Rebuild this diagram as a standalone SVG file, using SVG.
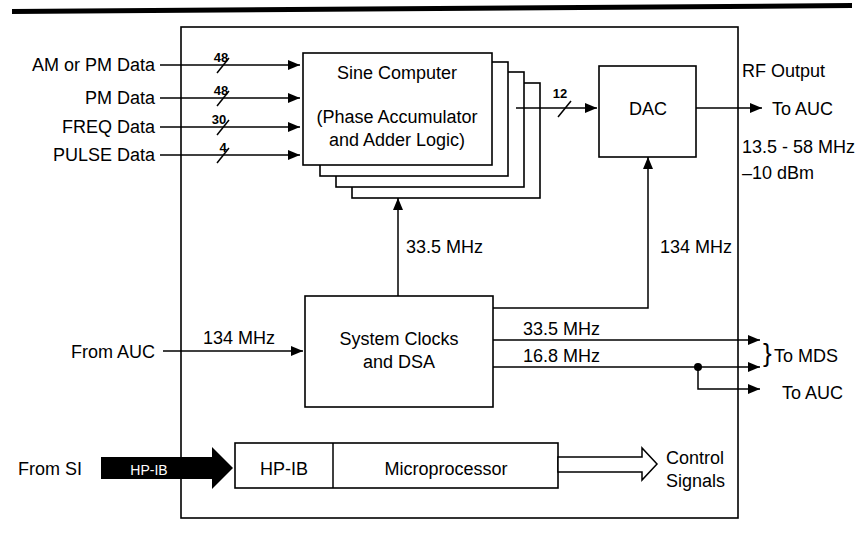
<svg xmlns="http://www.w3.org/2000/svg" width="865" height="537" viewBox="0 0 865 537">
<style>
text{font-family:"Liberation Sans",Arial,sans-serif;font-size:18px;fill:#000}
.sm{font-size:13px;font-weight:bold}
.box{fill:#fff;stroke:#000;stroke-width:1.6}
.ln{fill:none;stroke:#000;stroke-width:1.5}
.c{text-anchor:middle}
.e{text-anchor:end}
</style>
<defs>
<marker id="ah" markerUnits="userSpaceOnUse" markerWidth="13" markerHeight="11" refX="12" refY="5" orient="auto">
<path d="M0,0 L12,5 L0,10 Z" fill="#000"/>
</marker>
</defs>
<rect width="865" height="537" fill="#fff"/>
<polygon points="12,9 852,3 852,8 12,14" fill="#000"/>
<rect id="frame" x="181" y="27" width="557" height="491" fill="none" stroke="#000" stroke-width="1.6"/>

<g id="sine-computer">
<rect class="box" x="352" y="83" width="188" height="115"/>
<rect class="box" x="336" y="72" width="188" height="115"/>
<rect class="box" x="320" y="62" width="188" height="114"/>
<rect class="box" x="303" y="53" width="189" height="112"/>
<text class="c" x="397" y="79">Sine Computer</text>
<text class="c" x="397" y="123">(Phase Accumulator</text>
<text class="c" x="397" y="146">and Adder Logic)</text>
</g>

<g id="dac">
<rect class="box" x="599" y="66" width="97" height="91"/>
<text class="c" x="648" y="115">DAC</text>
</g>

<g id="system-clocks">
<rect class="box" x="305" y="296" width="188" height="111"/>
<text class="c" x="399" y="345">System Clocks</text>
<text class="c" x="399" y="368">and DSA</text>
</g>

<g id="hpib-micro">
<rect class="box" x="235" y="443" width="323" height="45"/>
<line class="ln" x1="333" y1="443" x2="333" y2="488"/>
<text class="c" x="284" y="475">HP-IB</text>
<text class="c" x="446" y="475">Microprocessor</text>
</g>

<g id="connectors">
<line class="ln" x1="160" y1="65" x2="300" y2="65" marker-end="url(#ah)"/>
<line class="ln" x1="160" y1="98" x2="300" y2="98" marker-end="url(#ah)"/>
<line class="ln" x1="160" y1="127" x2="300" y2="127" marker-end="url(#ah)"/>
<line class="ln" x1="160" y1="155" x2="300" y2="155" marker-end="url(#ah)"/>
<line class="ln" x1="217" y1="73" x2="229" y2="58"/>
<line class="ln" x1="217" y1="106" x2="229" y2="91"/>
<line class="ln" x1="217" y1="135" x2="229" y2="120"/>
<line class="ln" x1="217" y1="163" x2="229" y2="148"/>
<line class="ln" x1="516" y1="108" x2="597" y2="108" marker-end="url(#ah)"/>
<line class="ln" x1="558" y1="117" x2="571" y2="101"/>
<line class="ln" x1="696" y1="108" x2="762" y2="108" marker-end="url(#ah)"/>
<line class="ln" x1="398" y1="296" x2="398" y2="198" marker-end="url(#ah)"/>
<polyline class="ln" points="493,308 648,308 648,157" marker-end="url(#ah)"/>
<line class="ln" x1="163" y1="351" x2="303" y2="351" marker-end="url(#ah)"/>
<line class="ln" x1="493" y1="340" x2="760" y2="340" marker-end="url(#ah)"/>
<line class="ln" x1="493" y1="367" x2="760" y2="367" marker-end="url(#ah)"/>
<polyline class="ln" points="698,367 698,389 760,389" marker-end="url(#ah)"/>
<circle cx="698" cy="367" r="4" fill="#000"/>
<polygon points="101,457 212,457 212,447 233,468 212,489 212,479 101,479" fill="#000"/>
<polygon points="558,457 642,457 642,448 657,464 642,480 642,472 558,472" fill="#fff" stroke="#000" stroke-width="1.5"/>
</g>

<g id="labels">
<text class="e" x="155" y="71">AM or PM Data</text>
<text class="e" x="155" y="104">PM Data</text>
<text class="e" x="155" y="133">FREQ Data</text>
<text class="e" x="155" y="161">PULSE Data</text>
<text class="sm c" x="221" y="62">48</text>
<text class="sm c" x="221" y="95">48</text>
<text class="sm c" x="219" y="124">30</text>
<text class="sm c" x="223" y="152">4</text>
<text class="sm c" x="560" y="98">12</text>
<text x="742" y="77">RF Output</text>
<text x="772" y="115">To AUC</text>
<text x="742" y="153">13.5 - 58 MHz</text>
<text x="742" y="179">–10 dBm</text>
<text x="406" y="253">33.5 MHz</text>
<text x="660" y="253">134 MHz</text>
<text class="e" x="155" y="358">From AUC</text>
<text x="203" y="344">134 MHz</text>
<text x="523" y="335">33.5 MHz</text>
<text x="523" y="362">16.8 MHz</text>
<text x="763" y="362" style="font-size:26px">}</text>
<text x="774" y="362">To MDS</text>
<text x="782" y="399">To AUC</text>
<text x="18" y="475">From SI</text>
<text class="c" x="149" y="475" style="font-size:14px;fill:#fff">HP-IB</text>
<text x="666" y="464">Control</text>
<text x="666" y="487">Signals</text>
</g>
</svg>
